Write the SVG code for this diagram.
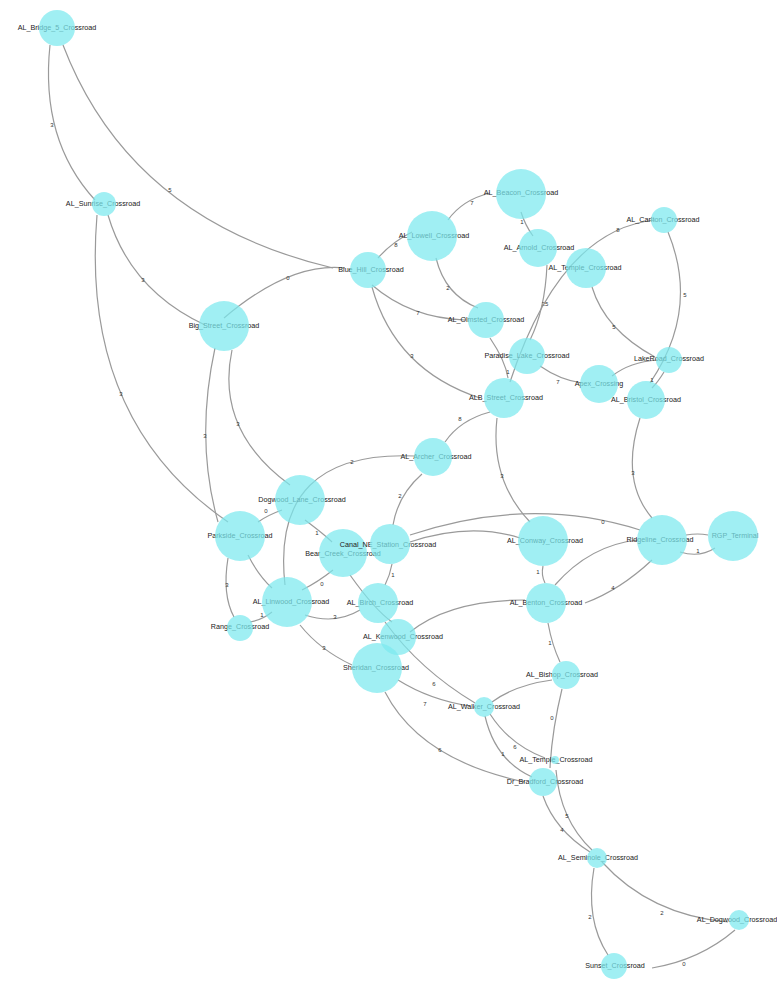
<svg xmlns="http://www.w3.org/2000/svg" width="777" height="983" viewBox="0 0 777 983">
<style>
.e{fill:none;stroke:#9a9a9a;stroke-width:1.2}
.el{font-family:"Liberation Sans",Arial,sans-serif;font-size:6px;fill:#333;text-anchor:middle;dominant-baseline:middle}
.nl{font-family:"Liberation Sans",Arial,sans-serif;font-size:7.2px;fill:#222;text-anchor:middle;dominant-baseline:middle}
.c{fill:#7ce9ef;fill-opacity:0.72}
</style>
<rect width="777" height="983" fill="#ffffff"/>
<g id="connectors">
<path class="e" d="M50,45 Q40,140 95,200"/><text class="el" x="52" y="125">3</text>
<path class="e" d="M63,45 Q130,220 333,268"/><text class="el" x="170" y="190">5</text>
<path class="e" d="M108,215 Q130,290 205,325"/><text class="el" x="143" y="280">3</text>
<path class="e" d="M97,215 Q80,420 228,522"/><text class="el" x="121" y="394">3</text>
<path class="e" d="M224,318 Q290,262 345,268"/><text class="el" x="288" y="278">0</text>
<path class="e" d="M215,348 Q195,440 218,522"/><text class="el" x="205" y="436">3</text>
<path class="e" d="M232,350 Q215,430 290,485"/><text class="el" x="238" y="424">3</text>
<path class="e" d="M378,258 Q392,242 412,232"/><text class="el" x="396" y="245">8</text>
<path class="e" d="M372,285 Q410,318 465,320"/><text class="el" x="418" y="313">7</text>
<path class="e" d="M372,287 Q395,370 480,398"/><text class="el" x="412" y="356">3</text>
<path class="e" d="M448,220 Q462,200 490,193"/><text class="el" x="472" y="203">7</text>
<path class="e" d="M436,258 Q445,295 478,308"/><text class="el" x="448" y="288">2</text>
<path class="e" d="M521,212 Q525,225 533,236"/><text class="el" x="522" y="222">1</text>
<path class="e" d="M547,265 Q545,310 530,340"/><text class="el" x="545" y="304">25</text>
<path class="e" d="M655,220 Q560,230 510,382"/><text class="el" x="618" y="230">8</text>
<path class="e" d="M592,287 Q605,330 655,357"/><text class="el" x="614" y="327">5</text>
<path class="e" d="M668,232 Q700,310 650,383"/><text class="el" x="685" y="295">5</text>
<path class="e" d="M540,366 Q560,380 582,383"/><text class="el" x="558" y="382">7</text>
<path class="e" d="M612,376 Q630,362 657,360"/>
<path class="e" d="M664,372 Q658,382 652,388"/><text class="el" x="652" y="380">1</text>
<path class="e" d="M490,338 Q505,360 508,378"/><text class="el" x="508" y="372">1</text>
<path class="e" d="M490,412 Q460,420 445,442"/><text class="el" x="460" y="419">8</text>
<path class="e" d="M497,418 Q490,480 530,522"/><text class="el" x="502" y="476">3</text>
<path class="e" d="M640,418 Q620,480 652,518"/><text class="el" x="633" y="473">3</text>
<path class="e" d="M415,456 Q270,450 285,585"/><text class="el" x="352" y="462">2</text>
<path class="e" d="M422,474 Q398,495 393,525"/><text class="el" x="400" y="496">2</text>
<path class="e" d="M282,510 Q268,515 258,522"/><text class="el" x="266" y="511">0</text>
<path class="e" d="M305,520 Q325,535 332,542"/><text class="el" x="317" y="533">1</text>
<path class="e" d="M248,555 Q258,575 272,588"/>
<path class="e" d="M228,558 Q222,595 234,617"/><text class="el" x="227" y="585">3</text>
<path class="e" d="M272,612 Q262,620 250,622"/><text class="el" x="262" y="615">1</text>
<path class="e" d="M333,570 Q318,582 302,590"/><text class="el" x="322" y="584">0</text>
<path class="e" d="M410,535 Q530,495 640,530"/><text class="el" x="603" y="522">0</text>
<path class="e" d="M410,542 Q470,522 520,538"/>
<path class="e" d="M543,566 Q541,575 545,583"/><text class="el" x="538" y="572">1</text>
<path class="e" d="M555,585 Q590,545 638,540"/>
<path class="e" d="M585,603 Q620,590 652,560"/><text class="el" x="613" y="588">4</text>
<path class="e" d="M686,535 Q698,533 708,535"/>
<path class="e" d="M680,552 Q700,558 715,548"/><text class="el" x="698" y="551">1</text>
<path class="e" d="M410,632 Q450,600 525,600"/>
<path class="e" d="M305,615 Q335,625 360,610"/><text class="el" x="335" y="617">3</text>
<path class="e" d="M300,625 Q320,650 352,665"/><text class="el" x="324" y="648">3</text>
<path class="e" d="M385,622 Q420,670 475,703"/><text class="el" x="434" y="684">6</text>
<path class="e" d="M350,575 Q375,610 392,622"/>
<path class="e" d="M398,680 Q430,700 470,706"/><text class="el" x="425" y="704">7</text>
<path class="e" d="M385,692 Q420,760 525,782"/><text class="el" x="440" y="750">6</text>
<path class="e" d="M552,680 Q515,685 492,702"/>
<path class="e" d="M548,623 Q552,645 560,662"/><text class="el" x="550" y="643">1</text>
<path class="e" d="M562,689 Q552,730 550,768"/><text class="el" x="552" y="718">0</text>
<path class="e" d="M490,714 Q510,745 545,758"/><text class="el" x="515" y="747">6</text>
<path class="e" d="M485,716 Q495,760 532,777"/><text class="el" x="503" y="754">1</text>
<path class="e" d="M543,796 Q555,830 590,852"/><text class="el" x="562" y="830">4</text>
<path class="e" d="M556,770 Q560,820 592,850"/><text class="el" x="567" y="816">5</text>
<path class="e" d="M602,862 Q650,915 728,922"/><text class="el" x="662" y="913">2</text>
<path class="e" d="M594,868 Q585,920 608,955"/><text class="el" x="590" y="917">2</text>
<path class="e" d="M652,968 Q700,960 735,930"/><text class="el" x="684" y="964">0</text>
<path class="e" d="M392,564 Q390,575 385,585"/><text class="el" x="393" y="575">1</text>
</g>
<g id="n1"><text class="nl" x="57" y="28">AL_Bridge_5_Crossroad</text><circle class="c" cx="57" cy="28" r="18"/></g>
<g id="n2"><text class="nl" x="103" y="204">AL_Sunrise_Crossroad</text><circle class="c" cx="104" cy="204" r="12"/></g>
<g id="n3"><text class="nl" x="224" y="326">Big_Street_Crossroad</text><circle class="c" cx="224" cy="326" r="25"/></g>
<g id="n4"><text class="nl" x="371" y="270">Blue_Hill_Crossroad</text><circle class="c" cx="368" cy="270" r="18"/></g>
<g id="n5"><text class="nl" x="434" y="236">AL_Lowell_Crossroad</text><circle class="c" cx="432" cy="236" r="25"/></g>
<g id="n6"><text class="nl" x="521" y="193">AL_Beacon_Crossroad</text><circle class="c" cx="521" cy="194" r="25"/></g>
<g id="n7"><text class="nl" x="539" y="248">AL_Arnold_Crossroad</text><circle class="c" cx="538" cy="248" r="19"/></g>
<g id="n8"><text class="nl" x="585" y="268">AL_Temple_Crossroad</text><circle class="c" cx="586" cy="268" r="20"/></g>
<g id="n9"><text class="nl" x="663" y="220">AL_Carlton_Crossroad</text><circle class="c" cx="664" cy="220" r="13"/></g>
<g id="n10"><text class="nl" x="486" y="320">AL_Olmsted_Crossroad</text><circle class="c" cx="486" cy="320" r="18"/></g>
<g id="n11"><text class="nl" x="527" y="356">Paradise_Lake_Crossroad</text><circle class="c" cx="527" cy="356" r="18"/></g>
<g id="n12"><text class="nl" x="669" y="359">LakeRoad_Crossroad</text><circle class="c" cx="669" cy="360" r="13"/></g>
<g id="n13"><text class="nl" x="599" y="384">Apex_Crossing</text><circle class="c" cx="599" cy="384" r="19"/></g>
<g id="n14"><text class="nl" x="646" y="400">AL_Bristol_Crossroad</text><circle class="c" cx="646" cy="400" r="19"/></g>
<g id="n15"><text class="nl" x="506" y="398">ALB_Street_Crossroad</text><circle class="c" cx="504" cy="398" r="20"/></g>
<g id="n16"><text class="nl" x="436" y="457">AL_Archer_Crossroad</text><circle class="c" cx="433" cy="457" r="19"/></g>
<g id="n17"><text class="nl" x="302" y="500">Dogwood_Lane_Crossroad</text><circle class="c" cx="300" cy="500" r="25"/></g>
<g id="n18"><text class="nl" x="240" y="536">Parkside_Crossroad</text><circle class="c" cx="240" cy="536" r="25"/></g>
<g id="n19"><text class="nl" x="343" y="554">Bear_Creek_Crossroad</text><circle class="c" cx="343" cy="553" r="24"/></g>
<g id="n20"><text class="nl" x="388" y="545">Canal_NE_Station_Crossroad</text><circle class="c" cx="390" cy="544" r="20"/></g>
<g id="n21"><text class="nl" x="545" y="541">AL_Conway_Crossroad</text><circle class="c" cx="543" cy="541" r="25"/></g>
<g id="n22"><text class="nl" x="660" y="540">Ridgeline_Crossroad</text><circle class="c" cx="662" cy="540" r="25"/></g>
<g id="n23"><text class="nl" x="735" y="536">RGP_Terminal</text><circle class="c" cx="733" cy="536" r="25"/></g>
<g id="n24"><text class="nl" x="291" y="602">AL_Linwood_Crossroad</text><circle class="c" cx="287" cy="602" r="25"/></g>
<g id="n25"><text class="nl" x="240" y="627">Range_Crossroad</text><circle class="c" cx="240" cy="628" r="13"/></g>
<g id="n26"><text class="nl" x="380" y="603">AL_Birch_Crossroad</text><circle class="c" cx="378" cy="603" r="20"/></g>
<g id="n27"><text class="nl" x="546" y="603">AL_Benton_Crossroad</text><circle class="c" cx="546" cy="603" r="20"/></g>
<g id="n28"><text class="nl" x="403" y="637">AL_Kenwood_Crossroad</text><circle class="c" cx="398" cy="637" r="18"/></g>
<g id="n29"><text class="nl" x="376" y="668">Sheridan_Crossroad</text><circle class="c" cx="377" cy="668" r="25"/></g>
<g id="n30"><text class="nl" x="562" y="675">AL_Bishop_Crossroad</text><circle class="c" cx="566" cy="675" r="14"/></g>
<g id="n31"><text class="nl" x="484" y="707">AL_Walker_Crossroad</text><circle class="c" cx="484" cy="707" r="10"/></g>
<g id="n32"><text class="nl" x="556" y="760">AL_Temple_Crossroad</text><circle class="c" cx="555" cy="760" r="4"/></g>
<g id="n33"><text class="nl" x="545" y="782">Dr_Bradford_Crossroad</text><circle class="c" cx="543" cy="782" r="14"/></g>
<g id="n34"><text class="nl" x="598" y="858">AL_Seminole_Crossroad</text><circle class="c" cx="597" cy="858" r="10"/></g>
<g id="n35"><text class="nl" x="737" y="920">AL_Dogwood_Crossroad</text><circle class="c" cx="739" cy="920" r="10"/></g>
<g id="n36"><text class="nl" x="615" y="966">Sunset_Crossroad</text><circle class="c" cx="614" cy="966" r="13"/></g>
</svg>
